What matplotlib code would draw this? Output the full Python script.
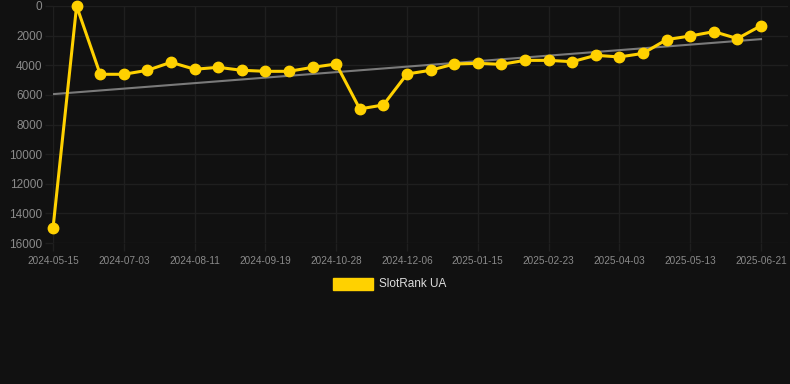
import matplotlib
matplotlib.use("Agg")
import matplotlib.pyplot as plt
from matplotlib.patches import Rectangle
import numpy as np

# rank values, one per snapshot (lower is better -> inverted axis)
ranks = [15000, 0, 4610, 4610, 4340, 3800, 4270, 4140, 4340, 4410, 4410,
         4140, 3915, 6950, 6680, 4590, 4340, 3915, 3870, 3940, 3670,
         3670, 3760, 3330, 3440, 3200, 2270, 2025, 1730, 2200, 1330]

tick_labels = ["2024-05-15", "2024-07-03", "2024-08-11", "2024-09-19",
               "2024-10-28", "2024-12-06", "2025-01-15", "2025-02-23",
               "2025-04-03", "2025-05-13", "2025-06-21"]
y_ticks = [0, 2000, 4000, 6000, 8000, 10000, 12000, 14000, 16000]
series_name = "SlotRank UA"

BG = "#111111"
GOLD = "#FFD100"
GRID = "#1f1f1f"
TXT = "#8a8a8a"

W, H = 790, 384
plt.rcParams["font.family"] = ["Liberation Sans", "DejaVu Sans"]

fig = plt.figure(figsize=(W / 100, H / 100), dpi=100, facecolor=BG)
left, right, top, bottom = 53, 788, 6, 243
ax = fig.add_axes([left / W, 1 - bottom / H, (right - left) / W, (bottom - top) / H])
ax.set_facecolor(BG)

x = np.arange(len(ranks))
step = (761 - 53) / (len(ranks) - 1)
ax.set_xlim(0, (right - left) / step)
ax.set_ylim(16000, 0)

# trend line (least squares)
coef = np.polyfit(x, ranks, 1)
ax.plot(x, np.polyval(coef, x), color="#7a7a7a", lw=1.5, zorder=2)

ax.plot(x, ranks, color=GOLD, lw=2.2, marker="o", markersize=7.5,
        markeredgecolor=GOLD, zorder=3, clip_on=False)

ax.set_yticks(y_ticks)
ax.set_yticklabels([str(v) for v in y_ticks])
ax.set_xticks(x[::3])
ax.set_xticklabels(tick_labels)
ax.grid(True, color=GRID, lw=1)
ax.set_axisbelow(True)
for s in ax.spines.values():
    s.set_visible(False)
ax.tick_params(axis="y", length=6, width=1, color=GRID, labelcolor=TXT,
               labelsize=8.5, pad=1.5)
ax.tick_params(axis="x", length=6, width=1, color=GRID, labelcolor=TXT,
               labelsize=7.2, pad=3)

# legend box
fig.patches.append(Rectangle((333 / W, 1 - 290 / H), 40 / W, 12 / H,
                             transform=fig.transFigure, facecolor=GOLD,
                             edgecolor=GOLD))
fig.text(379 / W, 1 - 284 / H, series_name, color="#dddddd", fontsize=8.5,
         va="center", ha="left")

fig.savefig("out.png", dpi=100, facecolor=BG)
